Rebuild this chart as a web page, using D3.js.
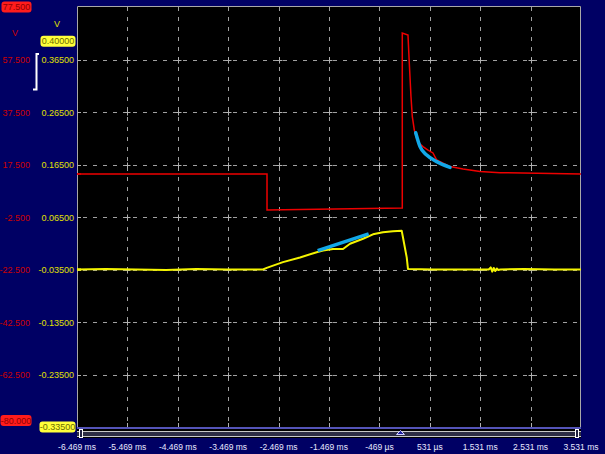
<!DOCTYPE html>
<html>
<head>
<meta charset="utf-8">
<script src="https://cdn.jsdelivr.net/npm/d3@7/dist/d3.min.js"></script>
<style>
body { margin: 0; background: #000064; }
text { font-family: "Liberation Sans", Arial, sans-serif; font-size: 9px; }
</style>
</head>
<body>
<script>
// time axis (ms)
var timeTicks = [-6.469, -5.469, -4.469, -3.469, -2.469, -1.469, -0.469, 0.531, 1.531, 2.531, 3.531];
var timeLabels = ["-6.469 ms", "-5.469 ms", "-4.469 ms", "-3.469 ms", "-2.469 ms", "-1.469 ms", "-469 µs", "531 µs", "1.531 ms", "2.531 ms", "3.531 ms"];

// channel A (yellow, V) and channel B (red, V) tick labels
var yelTicks = [0.365, 0.265, 0.165, 0.065, -0.035, -0.135, -0.235];
var yelLabels = ["0.36500", "0.26500", "0.16500", "0.06500", "-0.03500", "-0.13500", "-0.23500"];
var redTicks = [57.5, 37.5, 17.5, -2.5, -22.5, -42.5, -62.5];
var redLabels = ["57.500", "37.500", "17.500", "-2.500", "-22.500", "-42.500", "-62.500"];

// yellow trace
var yelT = [-6.469, -5.9, -5.3, -4.7, -4.1, -3.5, -3.0, -2.779, -2.705, -2.382, -2.044, -1.713, -1.588, -1.39, -1.191, -1.052, -0.794, -0.596, -0.398, -0.199, -0.027, -0.001, 0.073, 0.098, 0.6, 1.2, 1.70, 1.74, 1.77, 1.80, 1.83, 1.86, 1.89, 1.93, 2.4, 3.0, 3.531];
var yelV = [-0.035, -0.034, -0.035, -0.036, -0.034, -0.035, -0.035, -0.035, -0.032, -0.021, -0.012, -0.002, 0.001, 0.004, 0.004, 0.014, 0.0235, 0.032, 0.036, 0.038, 0.039, 0.026, -0.012, -0.034, -0.035, -0.035, -0.035, -0.031, -0.039, -0.032, -0.038, -0.033, -0.036, -0.035, -0.034, -0.035, -0.035];

// red trace
var redT = [-6.469, -2.699, -2.699, -0.015, -0.015, 0.098, 0.124, 0.158, 0.184, 0.224, 0.271, 0.32, 0.396, 0.495, 0.594, 0.668, 0.932, 1.19, 1.527, 1.924, 3.531];
var redV = [13.9, 13.9, 0.2, 0.9, 67.6, 66.8, 56.2, 43.3, 35.7, 30.6, 27.5, 25.6, 24.3, 23.0, 21.9, 19.2, 16.7, 15.8, 14.8, 14.4, 13.9];

// fitted segments (blue)
var fitRedT = [0.251, 0.337, 0.47, 0.668, 0.932];
var fitRedV = [29.6, 24.3, 21.1, 18.6, 16.4];
var fitYelT = [-1.694, -0.682];
var fitYelV = [0.001, 0.033];

var w = 605, h = 454;
var pLeft = 77, pRight = 581, pTop = 7, pBottom = 427;

var svg = d3.select("body").append("svg")
  .attr("width", w)
  .attr("height", h);

var x = d3.scaleLinear().domain([-6.469, 3.531]).range([pLeft, pRight]);
var yV = d3.scaleLinear().domain([-0.335, 0.465]).range([pBottom, pTop]);
var yR = d3.scaleLinear().domain([-82.5, 77.5]).range([pBottom, pTop]);

// plot area
svg.append("rect")
  .attr("x", pLeft).attr("y", pTop - 1)
  .attr("width", pRight - pLeft).attr("height", pBottom - pTop + 1)
  .attr("fill", "#000");
svg.append("path")
  .attr("d", "M" + (pLeft + 0.5) + "," + pBottom + "V" + (pTop - 0.5) + "H" + (pRight - 0.5) + "V" + pBottom)
  .attr("fill", "none").attr("stroke", "#a8a8a8").attr("stroke-width", 1);

// grid
var innerT = timeTicks.slice(1, -1);
svg.selectAll(".vg").data(innerT).enter().append("line")
  .attr("x1", function(d) { return Math.round(x(d)) + 0.5; })
  .attr("x2", function(d) { return Math.round(x(d)) + 0.5; })
  .attr("y1", pTop).attr("y2", pBottom)
  .style("stroke", "#a0a0a0").style("stroke-dasharray", "4,6");
svg.selectAll(".hg").data(yelTicks).enter().append("line")
  .attr("y1", function(d) { return Math.round(yV(d)) + 0.5; })
  .attr("y2", function(d) { return Math.round(yV(d)) + 0.5; })
  .attr("x1", pLeft + 6).attr("x2", pRight)
  .style("stroke", "#a0a0a0").style("stroke-dasharray", "4,6");

// crosses at intersections
innerT.forEach(function(t) {
  yelTicks.forEach(function(v) {
    var cx = Math.round(x(t)) + 0.5, cy = Math.round(yV(v)) + 0.5;
    svg.append("path")
      .attr("d", "M" + (cx - 3) + "," + cy + "H" + (cx + 3) + "M" + cx + "," + (cy - 3) + "V" + (cy + 3))
      .attr("stroke", "#b0b0b0").attr("fill", "none");
  });
});
// border ticks
svg.selectAll(".lt").data(yelTicks).enter().append("line")
  .attr("x1", pLeft).attr("x2", pLeft + 4)
  .attr("y1", function(d) { return Math.round(yV(d)) + 0.5; })
  .attr("y2", function(d) { return Math.round(yV(d)) + 0.5; })
  .style("stroke", "#b0b0b0");
svg.selectAll(".bt").data(innerT).enter().append("line")
  .attr("y1", pBottom - 4).attr("y2", pBottom)
  .attr("x1", function(d) { return Math.round(x(d)) + 0.5; })
  .attr("x2", function(d) { return Math.round(x(d)) + 0.5; })
  .style("stroke", "#b0b0b0");

// channel level markers
svg.append("line").attr("x1", pLeft).attr("x2", pLeft + 4)
  .attr("y1", yR(13.9)).attr("y2", yR(13.9))
  .style("stroke", "#e00000").style("stroke-width", 1.5);
svg.append("line").attr("x1", pLeft).attr("x2", pLeft + 4)
  .attr("y1", yV(-0.035)).attr("y2", yV(-0.035))
  .style("stroke", "#ffff00").style("stroke-width", 2);

// traces
var yelData = yelT.map(function(t, i) { return [t, yelV[i]]; });
var redData = redT.map(function(t, i) { return [t, redV[i]]; });
var lineV = d3.line().x(function(d) { return x(d[0]); }).y(function(d) { return yV(d[1]); });
var lineR = d3.line().x(function(d) { return x(d[0]); }).y(function(d) { return yR(d[1]); });

svg.append("path").datum(yelData)
  .attr("d", lineV).attr("fill", "none")
  .style("stroke", "#f4f400").style("stroke-width", 2).style("stroke-linejoin", "round");
svg.append("path").datum(redData)
  .attr("d", lineR).attr("fill", "none")
  .style("stroke", "#ee0000").style("stroke-width", 1.5);

svg.append("path").datum(fitRedT.map(function(t, i) { return [t, fitRedV[i]]; }))
  .attr("d", lineR.curve(d3.curveMonotoneX)).attr("fill", "none")
  .style("stroke", "#12a8e8").style("stroke-width", 3.5).style("stroke-linecap", "round");
svg.append("path").datum(fitYelT.map(function(t, i) { return [t, fitYelV[i]]; }))
  .attr("d", lineV).attr("fill", "none")
  .style("stroke", "#12a8e8").style("stroke-width", 3.5);

// scrollbar strip
svg.append("rect").attr("x", pLeft).attr("y", 427).attr("width", pRight - pLeft).attr("height", 11).attr("fill", "#000");
svg.append("rect").attr("x", pLeft).attr("y", 427).attr("width", pRight - pLeft).attr("height", 2).attr("fill", "#5454b8");
svg.append("rect").attr("x", pLeft).attr("y", 431).attr("width", pRight - pLeft).attr("height", 5).attr("fill", "#2c2c44");
svg.append("line").attr("x1", pLeft).attr("x2", pRight).attr("y1", 431.5).attr("y2", 431.5).style("stroke", "#c8c8c8");
svg.append("line").attr("x1", pLeft).attr("x2", pRight).attr("y1", 436.5).attr("y2", 436.5).style("stroke", "#c8c8c8");
svg.append("rect").attr("x", pLeft + 2.5).attr("y", 429.5).attr("width", 3).attr("height", 8)
  .attr("fill", "#202040").attr("stroke", "#ffffff");
svg.append("rect").attr("x", pRight - 5.5).attr("y", 429.5).attr("width", 3).attr("height", 8)
  .attr("fill", "#202040").attr("stroke", "#ffffff");
var trig = x(-0.05);
svg.append("path")
  .attr("d", "M" + (trig - 4) + ",434.5L" + trig + ",430.5L" + (trig + 4) + ",434.5Z")
  .attr("fill", "#2020a0").attr("stroke", "#d0d0ff");

// time labels
svg.selectAll(".xl").data(timeTicks).enter().append("text")
  .attr("x", function(d) { return x(d); })
  .attr("y", 450)
  .attr("text-anchor", "middle")
  .attr("fill", "#e8e8ff")
  .style("font-size", "8.5px")
  .text(function(d, i) { return timeLabels[i]; });

// y labels
svg.selectAll(".ryl").data(redTicks).enter().append("text")
  .attr("x", 30).attr("y", function(d) { return yR(d) + 3.5; })
  .attr("text-anchor", "end").attr("fill", "#cc0000")
  .text(function(d, i) { return redLabels[i]; });
svg.selectAll(".yyl").data(yelTicks).enter().append("text")
  .attr("x", 74).attr("y", function(d) { return yV(d) + 3.5; })
  .attr("text-anchor", "end").attr("fill", "#e0e000")
  .text(function(d, i) { return yelLabels[i]; });

svg.append("text").attr("x", 15).attr("y", 36).attr("text-anchor", "middle").attr("fill", "#cc0000").text("V");
svg.append("text").attr("x", 57).attr("y", 27).attr("text-anchor", "middle").attr("fill", "#e0e000").text("V");

// range boxes
function rangeBox(cx, cy, bw, label, fill, color) {
  cy = Math.max(6, Math.min(429, cy));
  svg.append("rect").attr("x", cx - bw / 2).attr("y", cy - 5.5).attr("width", bw).attr("height", 11)
    .attr("rx", 3).attr("fill", fill);
  svg.append("text").attr("x", cx).attr("y", cy + 3.2).attr("text-anchor", "middle")
    .attr("fill", color).text(label);
}
rangeBox(16.5, yR(77.5), 30, "77.500", "#ff1c1c", "#900000");
rangeBox(16, yR(-80), 31, "-80.000", "#ff1c1c", "#900000");
rangeBox(58, yV(0.4), 35, "0.40000", "#ffff3a", "#6c6c00");
rangeBox(57.5, yV(-0.335), 36, "-0.33500", "#ffff3a", "#6c6c00");

// white bracket
svg.append("path")
  .attr("d", "M39,54H36.5V89.5H33")
  .attr("fill", "none").attr("stroke", "#ffffff").attr("stroke-width", 2);
</script>
</body>
</html>
